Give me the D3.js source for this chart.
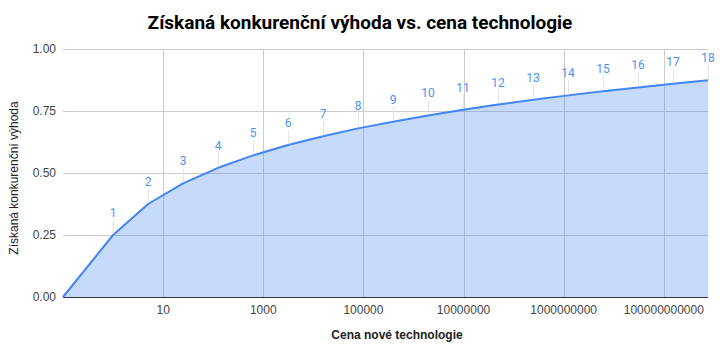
<!DOCTYPE html>
<html>
<head>
<meta charset="utf-8">
<script src="https://cdn.jsdelivr.net/npm/d3@7"></script>
<style>
    body { margin: 0; background: #fff; }
</style>
</head>
<body>
<svg id="drawing_region"></svg>
<script>
// price of new technology (log axis) and gained advantage
const prices = [0.1, 1, 5, 25, 125, 625, 3125, 15625, 78125, 390625, 1953125, 9765625,
    48828125, 244140625, 1220703125, 6103515625, 30517578125, 152587890625, 762939453125];
const advantage = [0, 0.25, 0.375, 0.458, 0.521, 0.571, 0.613, 0.648, 0.680, 0.707, 0.732,
    0.755, 0.776, 0.795, 0.813, 0.830, 0.845, 0.860, 0.874];
const pointLabels = ['', '1', '2', '3', '4', '5', '6', '7', '8', '9', '10', '11', '12', '13',
    '14', '15', '16', '17', '18'];
const xTicks = [10, 1000, 100000, 10000000, 1000000000, 100000000000];
const xTickLabels = ['10', '1000', '100000', '10000000', '1000000000', '100000000000'];
const yTicks = [0, 0.25, 0.5, 0.75, 1];

const data = prices.map( (p, i) => ({ x: p, y: advantage[i], label: pointLabels[i] }) );

const config = {
    width: 720,
    height: 350,
    margin: { top: 49, right: 12, bottom: 53, left: 63 }
};

const svg = d3.select( '#drawing_region' )
    .attr( 'width', config.width )
    .attr( 'height', config.height );

const innerW = config.width - config.margin.left - config.margin.right;
const innerH = config.height - config.margin.top - config.margin.bottom;

const chart = svg.append( 'g' )
    .attr( 'transform', `translate(${config.margin.left}, ${config.margin.top})` );

const xScale = d3.scaleLog()
    .domain( [prices[0], prices[prices.length - 1]] )
    .range( [0, innerW] );

const yScale = d3.scaleLinear()
    .domain( [0, 1] )
    .range( [innerH, 0] );

// grid
chart.selectAll( '.hgrid' )
    .data( yTicks.slice( 1 ) )
    .enter()
    .append( 'line' )
    .attr( 'x1', 0 )
    .attr( 'x2', innerW )
    .attr( 'y1', d => Math.round( yScale( d ) ) + 0.5 )
    .attr( 'y2', d => Math.round( yScale( d ) ) + 0.5 )
    .attr( 'stroke', '#cccccc' );

chart.selectAll( '.vgrid' )
    .data( xTicks )
    .enter()
    .append( 'line' )
    .attr( 'x1', d => Math.round( xScale( d ) ) + 0.5 )
    .attr( 'x2', d => Math.round( xScale( d ) ) + 0.5 )
    .attr( 'y1', 0 )
    .attr( 'y2', innerH )
    .attr( 'stroke', '#cccccc' );

// area + line
const area = d3.area()
    .x( d => xScale( d.x ) )
    .y0( yScale( 0 ) )
    .y1( d => yScale( d.y ) );

const line = d3.line()
    .x( d => xScale( d.x ) )
    .y( d => yScale( d.y ) );

chart.append( 'path' )
    .datum( data )
    .attr( 'd', area )
    .attr( 'fill', '#4285f4' )
    .attr( 'fill-opacity', 0.3 );

// baseline
chart.append( 'line' )
    .attr( 'x1', 0 )
    .attr( 'x2', innerW )
    .attr( 'y1', innerH + 0.5 )
    .attr( 'y2', innerH + 0.5 )
    .attr( 'stroke', '#333333' );

chart.append( 'path' )
    .datum( data )
    .attr( 'd', line )
    .attr( 'fill', 'none' )
    .attr( 'stroke', '#4285f4' )
    .attr( 'stroke-width', 2 )
    .attr( 'stroke-linejoin', 'round' );

// point labels with leader lines
const labelled = data.filter( d => d.label !== '' );

chart.selectAll( '.leader' )
    .data( labelled )
    .enter()
    .append( 'line' )
    .attr( 'x1', d => Math.round( xScale( d.x ) ) + 0.5 )
    .attr( 'x2', d => Math.round( xScale( d.x ) ) + 0.5 )
    .attr( 'y1', d => yScale( d.y ) - 15 )
    .attr( 'y2', d => yScale( d.y ) - 1 )
    .attr( 'stroke', '#e4e4e4' );

chart.selectAll( '.plabel' )
    .data( labelled )
    .enter()
    .append( 'text' )
    .text( d => d.label )
    .attr( 'x', d => xScale( d.x ) )
    .attr( 'y', d => yScale( d.y ) - 18 )
    .style( 'text-anchor', 'middle' )
    .style( 'font-family', 'Roboto, sans-serif' )
    .style( 'font-size', '12px' )
    .attr( 'fill', '#4f8ff5' );

// y tick labels
chart.selectAll( '.ytick' )
    .data( yTicks )
    .enter()
    .append( 'text' )
    .text( d => d3.format( '.2f' )( d ) )
    .attr( 'x', -7 )
    .attr( 'y', d => yScale( d ) + 4 )
    .style( 'text-anchor', 'end' )
    .style( 'font-family', 'Arial, "Liberation Sans", sans-serif' )
    .style( 'font-size', '12px' )
    .attr( 'fill', '#444444' );

// x tick labels
chart.selectAll( '.xtick' )
    .data( xTicks )
    .enter()
    .append( 'text' )
    .text( (d, i) => xTickLabels[i] )
    .attr( 'x', d => xScale( d ) )
    .attr( 'y', innerH + 17 )
    .style( 'text-anchor', 'middle' )
    .style( 'font-family', 'Arial, "Liberation Sans", sans-serif' )
    .style( 'font-size', '12px' )
    .attr( 'fill', '#444444' );

// axis titles
svg.append( 'text' )
    .text( 'Cena nové technologie' )
    .attr( 'x', 397 )
    .attr( 'y', 339 )
    .style( 'text-anchor', 'middle' )
    .style( 'font-family', 'Arial, "Liberation Sans", sans-serif' )
    .style( 'font-size', '12px' )
    .style( 'font-weight', 'bold' )
    .attr( 'fill', '#222222' );

svg.append( 'text' )
    .text( 'Získaná konkurenční výhoda' )
    .attr( 'transform', `translate(18, 178) rotate(-90)` )
    .style( 'text-anchor', 'middle' )
    .style( 'font-family', 'Arial, "Liberation Sans", sans-serif' )
    .style( 'font-size', '12px' )
    .attr( 'fill', '#222222' );

// title
svg.append( 'text' )
    .text( 'Získaná konkurenční výhoda vs. cena technologie' )
    .attr( 'x', 360 )
    .attr( 'y', 29 )
    .style( 'text-anchor', 'middle' )
    .style( 'font-family', 'Roboto, sans-serif' )
    .style( 'font-size', '19px' )
    .style( 'font-weight', 'bold' )
    .attr( 'fill', '#000000' );
</script>
</body>
</html>
